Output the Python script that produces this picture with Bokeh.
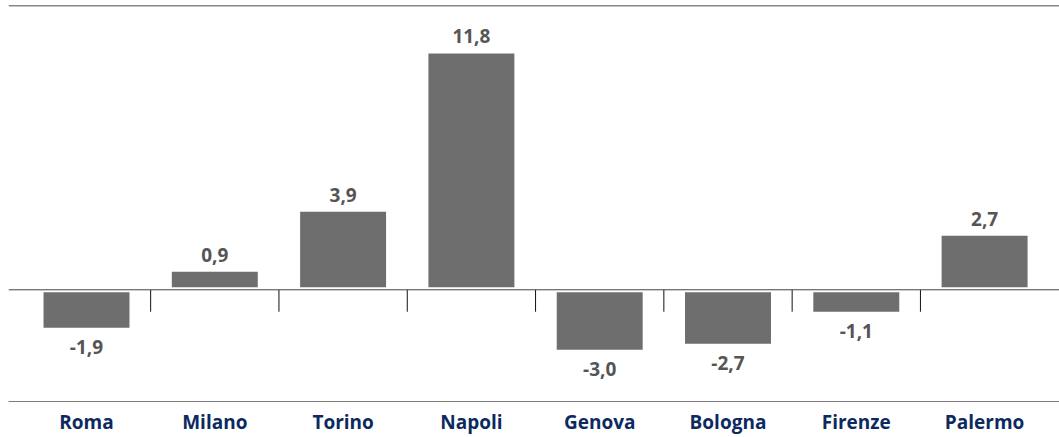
from bokeh.plotting import figure
from bokeh.models import Range1d, FixedTicker, Span, ColumnDataSource
from bokeh.core.properties import value
from bokeh.embed import file_html
from bokeh.resources import INLINE

# ---- data ----
cities = ["Roma", "Milano", "Torino", "Napoli", "Genova", "Bologna", "Firenze", "Palermo"]
values = [-1.9, 0.9, 3.9, 11.8, -3.0, -2.7, -1.1, 2.7]

# ---- styling / layout constants ----
W, H = 1059, 437
LEFT_PX = 8
PX_PER_UNIT = 20.08
PX_PER_CAT = 128.3
FIRST_CENTER_PX = 86
ZERO_PX = 290
TOP_PX = 5
BOTTOM_PX = 402
X_START = (LEFT_PX - FIRST_CENTER_PX) / PX_PER_CAT
X_END = X_START + (W - LEFT_PX) / PX_PER_CAT
Y_END = (ZERO_PX - TOP_PX) / PX_PER_UNIT
Y_START = -(BOTTOM_PX - ZERO_PX) / PX_PER_UNIT
SEP_LEN = 22 / PX_PER_UNIT
BAR_W = 0.67
BAR_COLOR = "#6e6e6e"
VAL_COLOR = "#555555"
CAT_COLOR = "#0c2a5f"
FONT = "Open Sans"

idx = list(range(len(cities)))
labels = [f"{v:.1f}".replace(".", ",") for v in values]

src = ColumnDataSource(dict(x=idx, top=values, lab=labels))
pos = ColumnDataSource(dict(x=[i for i, v in zip(idx, values) if v >= 0],
                            y=[v for v in values if v >= 0],
                            lab=[l for l, v in zip(labels, values) if v >= 0]))
neg = ColumnDataSource(dict(x=[i for i, v in zip(idx, values) if v < 0],
                            y=[v for v in values if v < 0],
                            lab=[l for l, v in zip(labels, values) if v < 0]))

p = figure(width=W, height=H, output_backend="svg", toolbar_location=None,
           x_range=Range1d(X_START, X_END), y_range=Range1d(Y_START, Y_END),
           y_axis_location=None, min_border_left=LEFT_PX, min_border_right=0,
           min_border_top=TOP_PX, min_border_bottom=H - BOTTOM_PX)
p.outline_line_color = None
p.xgrid.visible = False
p.ygrid.visible = False
p.background_fill_color = "white"
p.border_fill_color = "white"

p.vbar(x="x", top="top", bottom=0, width=BAR_W, source=src,
       fill_color=BAR_COLOR, line_color=None, level="underlay")

# white gap around the zero line
p.add_layout(Span(location=0, dimension="width", line_color="white",
                  line_width=5, level="underlay"))

# separators between categories
seps = [i + 0.5 for i in idx[:-1]]
p.segment(x0=seps, x1=seps, y0=[0] * len(seps), y1=[-SEP_LEN] * len(seps),
          line_color="#111111", line_width=1)

# zero line
p.add_layout(Span(location=0, dimension="width", line_color="#444444",
                  line_width=1, level="annotation"))
# top line
p.add_layout(Span(location=Y_END, dimension="width", line_color="#111111",
                  line_width=1.5, level="annotation"))

p.text(x="x", y="y", text="lab", source=pos, text_align="center",
       text_baseline="alphabetic", y_offset=-17,
       text_font=value(FONT), text_font_style="bold", text_font_size="19px",
       text_color=VAL_COLOR)
p.text(x="x", y="y", text="lab", source=neg, text_align="center",
       text_baseline="top", y_offset=12,
       text_font=value(FONT), text_font_style="bold", text_font_size="19px",
       text_color=VAL_COLOR)

ax = p.xaxis[0]
ax.ticker = FixedTicker(ticks=idx)
ax.major_label_overrides = {i: c for i, c in zip(idx, cities)}
ax.axis_line_color = "#7a7a7a"
ax.axis_line_width = 1
ax.major_tick_line_color = None
ax.minor_tick_line_color = None
ax.major_tick_out = 0
ax.major_tick_in = 0
ax.major_label_standoff = 7
ax.major_label_text_line_height = 1.0
ax.major_label_text_font = FONT
ax.major_label_text_font_style = "bold"
ax.major_label_text_font_size = "19px"
ax.major_label_text_color = CAT_COLOR

open("out.html", "w").write(file_html(p, INLINE))
